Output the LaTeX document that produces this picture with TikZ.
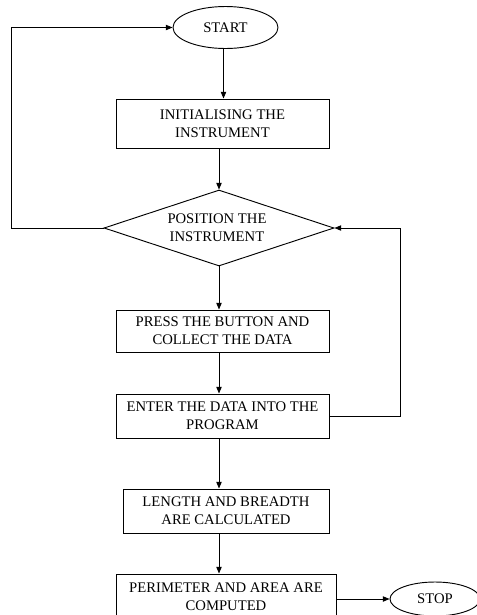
\documentclass[tikz,border=0pt]{standalone}
\usepackage{fontspec}
\setmainfont{Liberation Serif}
\usetikzlibrary{shapes.geometric,arrows.meta}
\begin{document}
\begin{tikzpicture}[x=0.75pt,y=-0.75pt,
  every node/.style={font=\fontsize{11}{13.3}\selectfont, align=center, inner sep=0pt},
  procbox/.style={draw, line width=0.7pt, rectangle},
  term/.style={draw, line width=0.7pt, ellipse},
  decide/.style={draw, line width=0.7pt, diamond},
  flow/.style={line width=0.7pt, -{Triangle[length=5pt,width=4pt]}}
]
\useasboundingbox (0,0) rectangle (477,615);
\clip (0,0) rectangle (477,615);

\node[term, minimum width=78.75pt, minimum height=31.5pt] (start) at (225.5,27.5) {START};
\node[procbox, minimum width=159.75pt, minimum height=36.75pt] (init) at (222.5,123.5) {INITIALISING THE\\INSTRUMENT};
\node[decide, minimum width=172.5pt, minimum height=57pt] (pos) at (219,228) {};
\node (postext) at (217,228) {POSITION THE\\INSTRUMENT};
\node[procbox, minimum width=159.75pt, minimum height=31.5pt] (press) at (222.5,331) {PRESS THE BUTTON AND\\COLLECT THE DATA};
\node[procbox, minimum width=159.75pt, minimum height=33pt] (enter) at (222.5,416) {ENTER THE DATA INTO THE\\PROGRAM};
\node[procbox, minimum width=154.5pt, minimum height=33pt] (length) at (226,511) {LENGTH AND BREADTH\\ARE CALCULATED};
\node[procbox, minimum width=165pt, minimum height=34.5pt] (perim) at (226,597) {PERIMETER AND AREA ARE\\COMPUTED};
\node[term, minimum width=67.5pt, minimum height=25.5pt] (stop) at (435,599) {STOP};

\coordinate (lt) at (11,27.5);
\coordinate (lb) at (11,228);
\coordinate (rb) at (400,416);
\coordinate (rt) at (400,228);

\draw[flow] ([xshift=-1.5pt]start.south) -- ([xshift=-1.5pt]start.south |- init.north);
\draw[flow] (init.south -| pos.north) -- (pos.north);
\draw[flow] (pos.south) -- (pos.south |- press.north);
\draw[flow] (pos.south |- press.south) -- (pos.south |- enter.north);
\draw[flow] (pos.south |- enter.south) -- (pos.south |- length.north);
\draw[flow] (pos.south |- length.south) -- (pos.south |- perim.north);
\draw[flow] (perim.east |- stop.west) -- (stop.west);
\draw[flow] (pos.west) -- (lb) -- (lt) -- (start.west);
\draw[flow] (enter.east) -- (rb) -- (rt) -- (pos.east);
\end{tikzpicture}
\end{document}
